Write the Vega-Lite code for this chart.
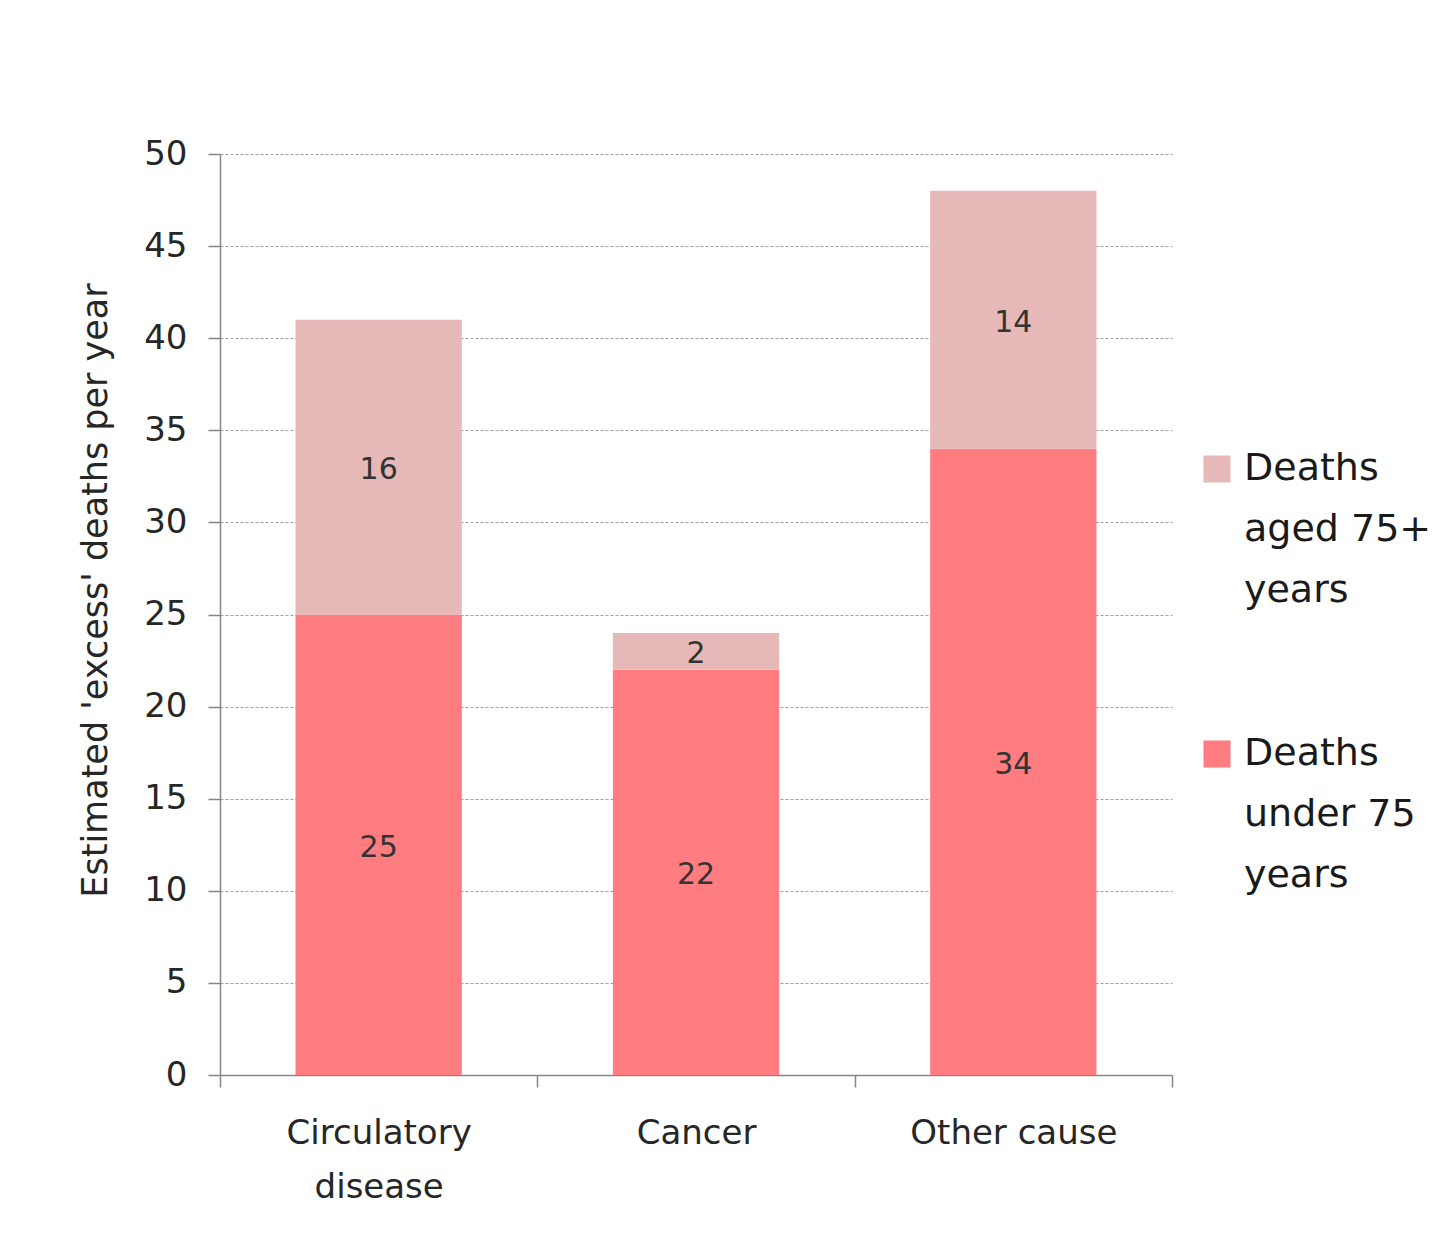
{
  "$schema": "https://vega.github.io/schema/vega-lite/v6.json",
  "autosize": {"type": "none"},
  "padding": {"left": 220, "top": 154, "right": 278, "bottom": 160},
  "width": 952,
  "height": 921,
  "background": "white",
  "config": {
    "font": "DejaVu Sans",
    "view": {"stroke": null},
    "axis": {"labelFont": "DejaVu Sans", "titleFont": "DejaVu Sans", "labelColor": "#262626", "titleColor": "#262626", "titleFontWeight": "normal"},
    "legend": {"labelFont": "DejaVu Sans"}
  },
  "data": {
    "values": [
      {"cause": "Circulatory disease", "group": "Deaths under 75 years", "deaths": 25, "ord": 1},
      {"cause": "Circulatory disease", "group": "Deaths aged 75+ years", "deaths": 16, "ord": 2},
      {"cause": "Cancer", "group": "Deaths under 75 years", "deaths": 22, "ord": 1},
      {"cause": "Cancer", "group": "Deaths aged 75+ years", "deaths": 2, "ord": 2},
      {"cause": "Other cause", "group": "Deaths under 75 years", "deaths": 34, "ord": 1},
      {"cause": "Other cause", "group": "Deaths aged 75+ years", "deaths": 14, "ord": 2}
    ]
  },
  "transform": [
    {"stack": "deaths", "groupby": ["cause"], "sort": [{"field": "ord", "order": "ascending"}], "as": ["y0", "y1"]},
    {"calculate": "(datum.y0 + datum.y1) / 2", "as": "ymid"}
  ],
  "encoding": {
    "x": {
      "field": "cause",
      "type": "nominal",
      "sort": ["Circulatory disease", "Cancer", "Other cause"],
      "scale": {"paddingInner": 0, "paddingOuter": 0},
      "axis": {
        "title": null,
        "labelAngle": 0,
        "labelFontSize": 34,
        "labelLimit": 400,
        "labelExpr": "datum.label == 'Circulatory disease' ? ['Circulatory', 'disease'] : datum.label",
        "labelLineHeight": 54,
        "labelPadding": 29,
        "labelBaseline": "top",
        "tickBand": "extent",
        "tickSize": 12,
        "tickColor": "#868686",
        "domainColor": "#868686",
        "domainWidth": 1.5,
        "tickWidth": 1.5,
        "grid": false
      }
    }
  },
  "layer": [
    {
      "mark": {"type": "bar", "width": {"band": 0.524}},
      "encoding": {
        "y": {
          "field": "y0",
          "type": "quantitative",
          "scale": {"domain": [0, 50]},
          "axis": {
            "title": "Estimated 'excess' deaths per year",
            "titleFontSize": 35,
            "titlePadding": 30,
            "titleY": 436,
            "labelFontSize": 34,
            "labelPadding": 21,
            "labelOverlap": false,
            "values": [0, 5, 10, 15, 20, 25, 30, 35, 40, 45, 50],
            "tickSize": 12,
            "tickColor": "#868686",
            "domainColor": "#868686",
            "domainWidth": 1.5,
            "tickWidth": 1.5,
            "grid": true,
            "gridColor": "#a0a0a0",
            "gridDash": [3, 2],
            "gridWidth": 1.2
          }
        },
        "y2": {"field": "y1"},
        "color": {
          "field": "group",
          "type": "nominal",
          "scale": {
            "domain": ["Deaths aged 75+ years", "Deaths under 75 years"],
            "range": ["#e6b9b8", "#ff7c80"]
          },
          "legend": {
            "title": null,
            "orient": "none",
            "legendX": 978,
            "legendY": 296,
            "symbolType": "square",
            "symbolSize": 730,
            "symbolStrokeWidth": 0,
            "labelFontSize": 38,
            "labelColor": "#1a1a1a",
            "labelBaseline": "middle",
            "labelOffset": 8,
            "rowPadding": 125,
            "labelLimit": 400,
            "labelExpr": "datum.label == 'Deaths aged 75+ years' ? ['Deaths', 'aged 75+', 'years'] : ['Deaths', 'under 75', 'years']",
            "encode": {"labels": {"update": {"lineHeight": {"value": 61}}}}
          }
        }
      }
    },
    {
      "mark": {"type": "text", "fontSize": 30, "color": "#333333", "baseline": "middle", "dy": 3},
      "encoding": {
        "y": {"field": "ymid", "type": "quantitative"},
        "text": {"field": "deaths", "type": "quantitative"}
      }
    }
  ]
}
